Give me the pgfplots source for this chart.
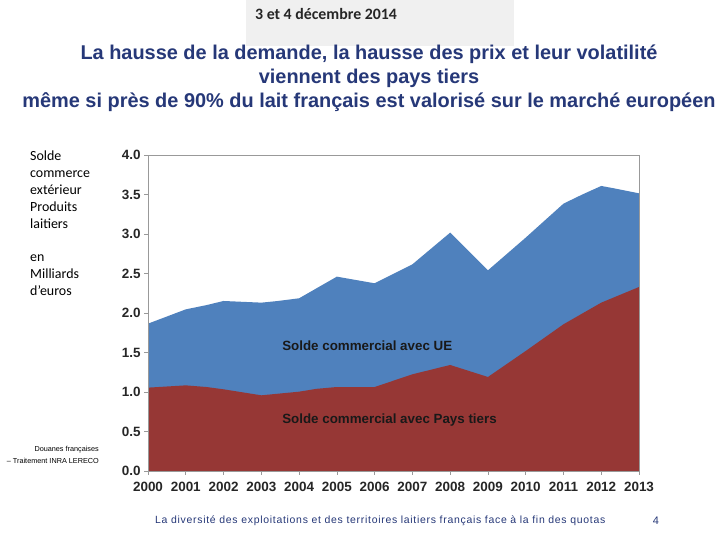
\documentclass[border=0pt]{standalone}
\usepackage{pgfplots}
\pgfplotsset{compat=1.18}
\usepackage{fontspec}
\setmainfont{Liberation Sans}
\newfontfamily\calibri{Carlito}
\definecolor{ueblue}{RGB}{79,129,189}
\definecolor{ptred}{RGB}{150,55,53}
\definecolor{titleblue}{RGB}{38,56,120}
\definecolor{boxgray}{RGB}{240,240,240}
\begin{document}
\begin{tikzpicture}[x=1bp,y=1bp]
\useasboundingbox (0,0) rectangle (720,540);
\fill[white] (0,0) rectangle (720,540);
\fill[boxgray] (246,494) rectangle (514,540);
\node[font=\calibri\bfseries\fontsize{15.9}{17}\selectfont, text=black!85, anchor=west, inner sep=0] at (255,526) {3 et 4 décembre 2014};
\node[font=\fontsize{20}{24}\selectfont\bfseries, text=titleblue, align=center, inner sep=0] at (369,462) {La hausse de la demande, la hausse des prix et leur volatilité\\viennent des pays tiers\\même si près de 90\% du lait français est valorisé sur le marché européen};
\node[font=\calibri\fontsize{14}{16.9}\selectfont, align=left, anchor=north west, inner sep=0] at (30,389) {Solde\\commerce\\extérieur\\Produits\\laitiers\\[16.9bp]en\\Milliards\\d’euros};
\node[font=\fontsize{7.3}{12}\selectfont, align=right, anchor=east, inner sep=0] at (99,85) {Douanes françaises\\– Traitement INRA LERECO};
\node[font=\fontsize{10.5}{12}\selectfont\addfontfeatures{LetterSpace=6.8}, text=titleblue, anchor=west, inner sep=0] at (155,19) {La diversité des exploitations et des territoires laitiers français face à la fin des quotas};
\node[font=\fontsize{11}{12}\selectfont, text=titleblue, inner sep=0] at (656,19) {4};
\begin{axis}[
  at={(148bp,69bp)}, anchor=south west,
  scale only axis, width=491bp, height=316bp,
  xmin=2000, xmax=2013, ymin=0, ymax=4,
  xtick={2000,2001,...,2013},
  ytick={0,0.5,...,4},
  axis line style={gray!80},
  tick style={gray!80, line width=0.6pt},
  tick align=outside,
  major tick length=4bp,
  xtick pos=lower, ytick pos=left,
  /pgf/number format/assume math mode=true,
  x tick label style={/pgf/number format/1000 sep={}, font=\bfseries\fontsize{13.5}{14}\selectfont, text=black!85},
  y tick label style={/pgf/number format/.cd, fixed, fixed zerofill, precision=1, /tikz/.cd, font=\bfseries\fontsize{13.5}{14}\selectfont, text=black!85},
  xticklabel style={yshift=-4bp},
  axis on top,
]
\addplot[fill=ueblue, draw=none] coordinates {
(2000,1.865) (2001,2.046) (2001.55,2.10) (2002,2.152) (2003,2.131) (2003.4,2.15)
(2004,2.186) (2005,2.46) (2006,2.376) (2007,2.616) (2008,3.017) (2009,2.54)
(2010,2.954) (2011,3.384) (2011.5,3.50) (2012,3.608) (2012.34,3.578) (2013,3.515)
} \closedcycle;
\addplot[fill=ptred, draw=none] coordinates {
(2000,1.055) (2001,1.084) (2001.55,1.063) (2002,1.034) (2003,0.958) (2004,1.004)
(2004.46,1.04) (2005,1.063) (2006,1.063) (2007,1.224) (2008,1.342) (2009,1.19)
(2010,1.519) (2011,1.857) (2012,2.131) (2013,2.329)
} \closedcycle;
\node[anchor=west, inner sep=0, font=\bfseries\fontsize{13.4}{14}\selectfont, text=black!90] at (axis cs:2003.55,1.58) {Solde commercial avec UE};
\node[anchor=west, inner sep=0, font=\bfseries\fontsize{13.4}{14}\selectfont, text=black!90] at (axis cs:2003.55,0.645) {Solde commercial avec Pays tiers};
\end{axis}
\end{tikzpicture}
\end{document}
